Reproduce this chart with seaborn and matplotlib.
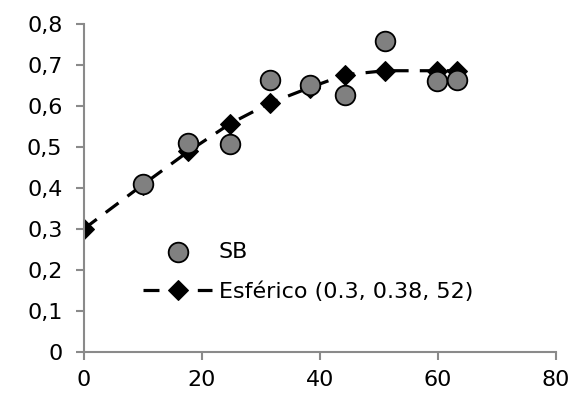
import matplotlib
matplotlib.use("Agg")
import matplotlib.pyplot as plt
import matplotlib.ticker as mticker
import seaborn as sns
import pandas as pd

# Experimental semivariogram (SB)
lag_sb = [10.0, 17.7, 24.8, 31.5, 38.3, 44.2, 51.0, 59.8, 63.3]
gamma_sb = [0.410, 0.510, 0.508, 0.663, 0.650, 0.627, 0.758, 0.662, 0.663]

# Spherical model (0.3, 0.38, 52)
lag_model = [0.0, 10.0, 17.7, 24.8, 31.5, 38.3, 44.2, 51.0, 59.8, 63.3]
gamma_model = [0.300, 0.408, 0.489, 0.557, 0.607, 0.645, 0.676, 0.686, 0.686, 0.686]

label_sb = "SB"
label_model = "Esférico (0.3, 0.38, 52)"

sns.set_theme(style="white")
plt.rcParams['font.family'] = ['DejaVu Sans']
plt.rcParams['text.color'] = 'black'

fig = plt.figure(figsize=(5.76, 3.94), dpi=100)
ax = fig.add_axes([0.1458, 0.1074, 0.8195, 0.8316])

df_model = pd.DataFrame({"x": lag_model, "y": gamma_model})
df_sb = pd.DataFrame({"x": lag_sb, "y": gamma_sb})

sns.lineplot(data=df_model, x="x", y="y", ax=ax, color="black", linewidth=2.3,
             marker="D", markersize=10, markeredgecolor="black",
             dashes=False, label=label_model, zorder=2)
ax.lines[-1].set_dashes((5, 3.5))
sns.scatterplot(data=df_sb, x="x", y="y", ax=ax, s=200, color="#808080",
                edgecolor="black", linewidth=1.3, label=label_sb, zorder=3)

ax.set_xlim(0, 80)
ax.set_ylim(0, 0.8)
ax.set_xticks([0, 20, 40, 60, 80])
ax.set_yticks([0, 0.1, 0.2, 0.3, 0.4, 0.5, 0.6, 0.7, 0.8])
ax.yaxis.set_major_formatter(mticker.FuncFormatter(
    lambda v, p: "0" if abs(v) < 1e-9 else f"{v:.1f}".replace(".", ",")))
ax.set_xlabel("")
ax.set_ylabel("")

for s in ["top", "right"]:
    ax.spines[s].set_visible(False)
for s in ["left", "bottom"]:
    ax.spines[s].set_color("#8a8a8a")
    ax.spines[s].set_linewidth(1.5)
ax.tick_params(axis="both", which="major", direction="out", length=5.5, width=1.5,
               color="#8a8a8a", labelsize=16, labelcolor="black")
ax.tick_params(axis="y", pad=10)
ax.tick_params(axis="x", pad=8)
ax.tick_params(left=True, bottom=True)

handles, labels = ax.get_legend_handles_labels()
order = [labels.index(label_sb), labels.index(label_model)]
leg = ax.legend([handles[i] for i in order], [labels[i] for i in order],
                loc="upper left", bbox_to_anchor=(0.083, 0.395), frameon=False,
                fontsize=16, handlelength=3.1, handletextpad=0.3, labelspacing=0.87)
for t in leg.get_texts():
    t.set_color("black")

fig.savefig("out.png", dpi=100)
